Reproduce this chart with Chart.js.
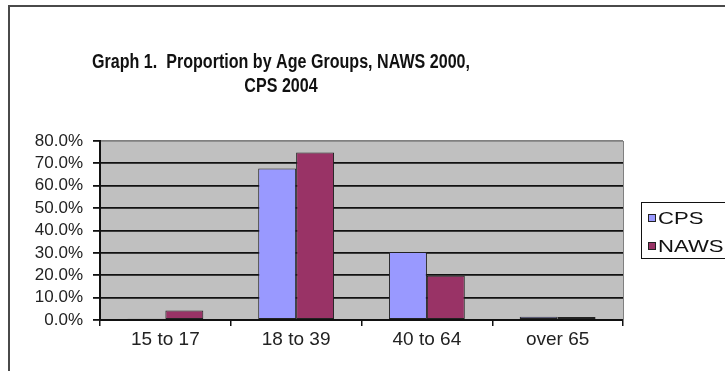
<!DOCTYPE html>
<html>
<head>
<meta charset="utf-8">
<script src="https://cdn.jsdelivr.net/npm/chart.js@4/dist/chart.umd.min.js"></script>
<style>
  html, body { margin: 0; padding: 0; background: #fff; }
  #wrap { position: relative; width: 725px; height: 371px; }
</style>
</head>
<body>
<div id="wrap"><canvas id="chart" width="725" height="371"></canvas></div>
<script>
const ageGroups = ['15 to 17', '18 to 39', '40 to 64', 'over 65'];
const cpsShare = [0.6, 67.7, 30.4, 1.5];   // percent
const nawsShare = [4.2, 74.9, 19.8, 1.3];  // percent
const titleLines = ['Graph 1.  Proportion by Age Groups, NAWS 2000,', 'CPS 2004'];

Chart.defaults.font.family = 'Arial, "Liberation Sans", sans-serif';
Chart.defaults.color = '#222';

// draw text squeezed/stretched horizontally by sx
function wideText(ctx, text, x, y, sx) {
  ctx.save();
  ctx.translate(x, y);
  ctx.scale(sx, 1);
  ctx.fillText(text, 0, 0);
  ctx.restore();
}

// grey plot panel, outer frame, title and legend box
const excelLook = {
  id: 'excelLook',
  beforeDraw(chart) {
    const { ctx, chartArea: a } = chart;
    ctx.save();
    ctx.fillStyle = '#c0c0c0';
    ctx.fillRect(a.left, a.top, a.right - a.left, a.bottom - a.top);
    // outer frame (top + left edges)
    ctx.strokeStyle = '#4a4a4a';
    ctx.lineWidth = 2;
    ctx.beginPath();
    ctx.moveTo(9, 380);
    ctx.lineTo(9, 6);
    ctx.lineTo(740, 6);
    ctx.stroke();
    ctx.restore();
  },
  afterDraw(chart) {
    const { ctx, chartArea: a } = chart;
    ctx.save();
    // right edge of plot panel
    ctx.strokeStyle = '#808080';
    ctx.lineWidth = 1;
    ctx.beginPath();
    ctx.moveTo(a.right + 0.5, a.top);
    ctx.lineTo(a.right + 0.5, a.bottom);
    ctx.stroke();

    // title, narrow bold face
    ctx.fillStyle = '#111';
    ctx.textAlign = 'center';
    ctx.textBaseline = 'alphabetic';
    ctx.font = 'bold 20px Arial, "Liberation Sans", sans-serif';
    const sx = 378 / ctx.measureText(titleLines[0]).width;
    wideText(ctx, titleLines[0], 281, 68, sx);
    wideText(ctx, titleLines[1], 281, 92, sx);

    // legend
    const ds = chart.data.datasets;
    ctx.strokeStyle = '#111';
    ctx.lineWidth = 1;
    ctx.strokeRect(641.5, 202.5, 100, 56);
    ctx.textAlign = 'left';
    ctx.textBaseline = 'middle';
    ctx.font = '17px Arial, "Liberation Sans", sans-serif';
    ds.forEach((d, i) => {
      const y = 218 + i * 28;
      ctx.fillStyle = d.backgroundColor;
      ctx.fillRect(648, y - 4, 8, 8);
      ctx.strokeStyle = '#222';
      ctx.strokeRect(648.5, y - 3.5, 7, 7);
      ctx.fillStyle = '#111';
      wideText(ctx, d.label, 658, y + 1, 1.3);
    });
    ctx.restore();
  }
};

new Chart(document.getElementById('chart'), {
  type: 'bar',
  data: {
    labels: ageGroups,
    datasets: [
      { label: 'CPS', data: cpsShare, backgroundColor: '#9999ff', borderColor: '#222', borderWidth: 1, borderSkipped: false },
      { label: 'NAWS', data: nawsShare, backgroundColor: '#993366', borderColor: '#222', borderWidth: 1, borderSkipped: false }
    ]
  },
  options: {
    responsive: false,
    animation: false,
    layout: { padding: { top: 141, right: 102, bottom: 0, left: 0 } },
    datasets: { bar: { categoryPercentage: 0.58, barPercentage: 1.0 } },
    plugins: { legend: { display: false }, title: { display: false }, tooltip: { enabled: false } },
    scales: {
      x: {
        afterFit(s) { s.height = 51; },
        grid: { offset: true, drawOnChartArea: false, tickLength: 6, color: '#111', lineWidth: 1.5 },
        border: { color: '#111', width: 2 },
        ticks: { font: { size: 19 }, padding: 2, color: '#222' }
      },
      y: {
        min: 0,
        max: 80,
        afterFit(s) { s.width = 100; },
        grid: {
          color: c => (c.tick && c.tick.value === 80 ? '#808080' : '#111'),
          tickColor: '#111',
          lineWidth: 1.8,
          tickLength: 7
        },
        border: { color: '#111', width: 2 },
        ticks: {
          stepSize: 10,
          autoSkip: false,
          padding: 10,
          font: { size: 17 },
          color: '#222',
          callback: v => v.toFixed(1) + '%'
        }
      }
    }
  },
  plugins: [excelLook]
});
</script>
</body>
</html>
